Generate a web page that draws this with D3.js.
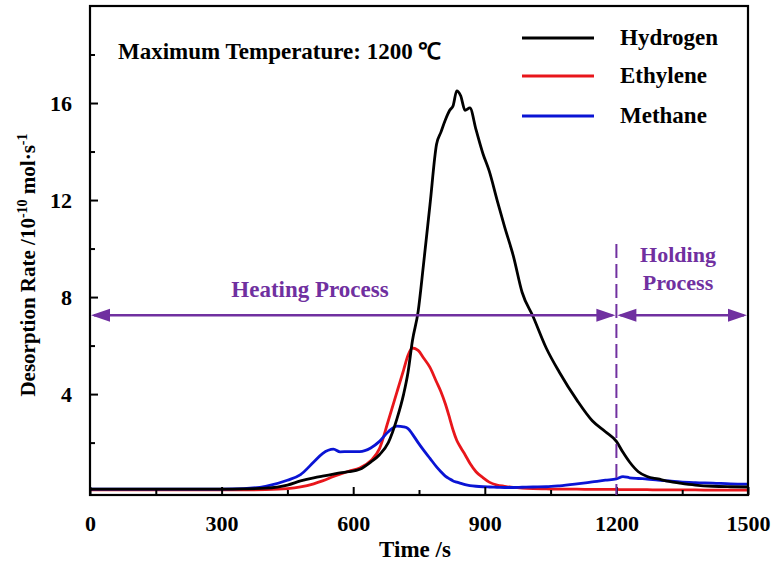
<!DOCTYPE html>
<html>
<head>
<meta charset="utf-8">
<script src="https://cdn.jsdelivr.net/npm/d3@7"></script>
<style>
  html, body { margin: 0; padding: 0; background: #fff; }
  svg { display: block; }
  text { font-family: "Liberation Serif", "Times New Roman", serif; font-weight: bold; }
</style>
</head>
<body>
<svg id="chart" width="773" height="564"></svg>
<script>
// ---- data ----
const time = [0, 100, 200, 300, 350, 400, 450, 480, 510, 530, 555, 570, 590, 615, 640, 660, 680, 700, 715, 725, 735, 748, 760, 775, 790, 800, 810, 820, 828, 836, 845, 855, 866, 880, 896, 910, 928, 945, 965, 985, 1010, 1040, 1070, 1110, 1145, 1175, 1200, 1215, 1230, 1250, 1270, 1295, 1320, 1345, 1380, 1420, 1460, 1500];
const hydrogen = [0.08, 0.08, 0.08, 0.08, 0.09, 0.12, 0.25, 0.42, 0.55, 0.62, 0.7, 0.75, 0.8, 0.9, 1.2, 1.5, 2.0, 3.0, 4.0, 4.9, 6.2, 7.4, 9.3, 11.8, 14.3, 14.8, 15.3, 15.7, 15.9, 16.5, 16.3, 15.7, 15.8, 14.9, 13.9, 13.2, 12.0, 10.9, 9.7, 8.2, 7.2, 5.9, 4.9, 3.75, 2.9, 2.45, 2.05, 1.6, 1.2, 0.8, 0.6, 0.5, 0.4, 0.33, 0.25, 0.2, 0.18, 0.17];
const ethylene = [0.05, 0.05, 0.05, 0.05, 0.05, 0.06, 0.1, 0.17, 0.3, 0.42, 0.6, 0.7, 0.82, 0.95, 1.25, 1.75, 2.9, 4.1, 5.0, 5.6, 5.9, 5.8, 5.5, 5.1, 4.5, 4.1, 3.6, 3.0, 2.5, 2.1, 1.8, 1.5, 1.15, 0.8, 0.55, 0.37, 0.25, 0.2, 0.15, 0.12, 0.1, 0.09, 0.08, 0.08, 0.07, 0.07, 0.07, 0.06, 0.06, 0.06, 0.06, 0.05, 0.05, 0.05, 0.05, 0.04, 0.04, 0.04];
const methane = [0.08, 0.08, 0.08, 0.08, 0.1, 0.2, 0.45, 0.68, 1.2, 1.55, 1.73, 1.62, 1.63, 1.63, 1.78, 2.05, 2.45, 2.68, 2.65, 2.58, 2.35, 2.0, 1.7, 1.35, 1.0, 0.8, 0.62, 0.5, 0.42, 0.37, 0.32, 0.27, 0.23, 0.2, 0.18, 0.17, 0.16, 0.15, 0.15, 0.16, 0.17, 0.18, 0.22, 0.3, 0.38, 0.45, 0.5, 0.6, 0.55, 0.52, 0.5, 0.45, 0.42, 0.38, 0.35, 0.33, 0.3, 0.29];
const seriesNames = ["Hydrogen", "Ethylene", "Methane"];
const seriesColors = ["#000000", "#e8161b", "#0a14d4"];
const xTicks = [0, 300, 600, 900, 1200, 1500];
const xMinorTicks = [150, 450, 750, 1050, 1350];
const yTicks = [4, 8, 12, 16];
const yMinorTicks = [2, 6, 10, 14, 18];
const boundaryTime = 1200;
const arrowLevel = 7.25;

// ---- layout ----
const svg = d3.select("#chart");
const purple = "#7030a0";
const x = d3.scaleLinear().domain([0, 1500]).range([90, 748]);
const y = d3.scaleLinear().domain([-0.16, 20]).range([495, 6]);

// lines
const allSeries = [hydrogen, ethylene, methane];
const line = d3.line().x((d, i) => x(time[i])).y(d => y(d)).curve(d3.curveMonotoneX);
const lineOrder = [1, 2, 0];
lineOrder.forEach(k => {
  svg.append("path").datum(allSeries[k])
    .attr("d", line)
    .attr("fill", "none")
    .attr("stroke", seriesColors[k])
    .attr("stroke-width", 2.8)
    .attr("stroke-linejoin", "round");
});

// axes frame
const gx = svg.append("g").attr("transform", `translate(0,${y.range()[0]})`);
gx.call(d3.axisBottom(x).tickValues(xTicks).tickSize(-8).tickPadding(20).tickFormat(d3.format("d")));
gx.append("g").call(d3.axisBottom(x).tickValues(xMinorTicks).tickSize(-5).tickFormat(""));
const gy = svg.append("g").attr("transform", `translate(${x.range()[0]},0)`);
gy.call(d3.axisLeft(y).tickValues(yTicks).tickSize(-8).tickPadding(18));
gy.append("g").call(d3.axisLeft(y).tickValues(yMinorTicks).tickSize(-5).tickFormat(""));
svg.selectAll(".domain").remove();
svg.selectAll(".tick line").attr("stroke", "#000").attr("stroke-width", 2);
svg.selectAll(".tick text").attr("font-size", 22).attr("font-family", "Liberation Serif, serif").attr("font-weight", "bold").attr("fill", "#000");
svg.append("rect")
  .attr("x", x.range()[0]).attr("y", y.range()[1])
  .attr("width", x.range()[1] - x.range()[0]).attr("height", y.range()[0] - y.range()[1])
  .attr("fill", "none").attr("stroke", "#000").attr("stroke-width", 2.2);

// axis titles
svg.append("text").attr("x", 415).attr("y", 557).attr("text-anchor", "middle")
  .attr("font-size", 23).text("Time /s");
const yt = svg.append("text").attr("transform", "translate(35,265) rotate(-90)")
  .attr("text-anchor", "middle").attr("font-size", 21);
yt.append("tspan").text("Desorption Rate /10");
yt.append("tspan").attr("font-size", 14).attr("dy", -8).text("-10");
yt.append("tspan").attr("dy", 8).text(" mol·s");
yt.append("tspan").attr("font-size", 14).attr("dy", -8).text("-1");

// annotation
svg.append("text").attr("x", 118).attr("y", 59).attr("font-size", 23).text("Maximum Temperature: 1200 ℃");

// legend
seriesNames.forEach((name, i) => {
  const ly = [38, 76, 116][i];
  svg.append("line").attr("x1", 522).attr("x2", 594).attr("y1", ly).attr("y2", ly)
    .attr("stroke", seriesColors[i]).attr("stroke-width", 3);
  svg.append("text").attr("x", 620).attr("y", ly + 7).attr("font-size", 23).text(name);
});

// process markers
svg.append("line").attr("x1", x(boundaryTime)).attr("x2", x(boundaryTime))
  .attr("y1", 244).attr("y2", y.range()[0])
  .attr("stroke", purple).attr("stroke-width", 2).attr("stroke-dasharray", "14,6");
function arrowHead(tipX, dir) {
  const ay = y(arrowLevel);
  svg.append("path")
    .attr("d", `M${tipX},${ay} L${tipX - dir * 19},${ay - 6.5} L${tipX - dir * 19},${ay + 6.5} Z`)
    .attr("fill", purple);
}
const ay = y(arrowLevel);
svg.append("line").attr("x1", x(0) + 4).attr("x2", x(boundaryTime) - 4).attr("y1", ay).attr("y2", ay)
  .attr("stroke", purple).attr("stroke-width", 2.5);
svg.append("line").attr("x1", x(boundaryTime) + 4).attr("x2", x(1500) - 4).attr("y1", ay).attr("y2", ay)
  .attr("stroke", purple).attr("stroke-width", 2.5);
arrowHead(x(0) + 1, -1);
arrowHead(x(boundaryTime) - 1, 1);
arrowHead(x(boundaryTime) + 1, -1);
arrowHead(x(1500) - 1, 1);
svg.append("text").attr("x", 310).attr("y", 297).attr("text-anchor", "middle")
  .attr("font-size", 23).attr("fill", purple).text("Heating Process");
svg.append("text").attr("x", 678).attr("y", 262).attr("text-anchor", "middle")
  .attr("font-size", 22).attr("fill", purple).text("Holding");
svg.append("text").attr("x", 678).attr("y", 290).attr("text-anchor", "middle")
  .attr("font-size", 22).attr("fill", purple).text("Process");
</script>
</body>
</html>
